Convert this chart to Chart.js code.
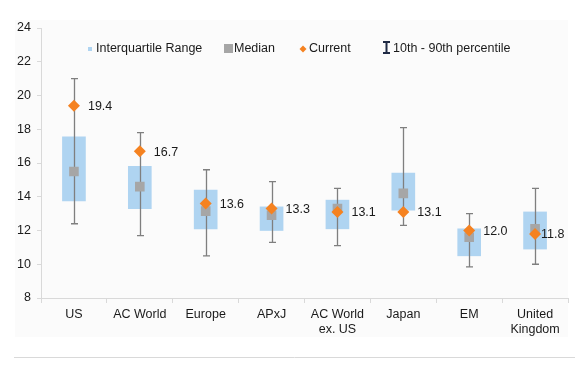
<!DOCTYPE html>
<html>
<head>
<meta charset="utf-8">
<script src="https://cdn.jsdelivr.net/npm/chart.js@4.4.1/dist/chart.umd.min.js"></script>
<style>
  body { margin: 0; background: #fff; }
  #wrap { width: 585px; height: 367px; position: relative; }
</style>
</head>
<body>
<div id="wrap"><canvas id="myChart" width="585" height="367"></canvas></div>
<script>
var regions = ["US", "AC World", "Europe", "APxJ", ["AC World", "ex. US"], "Japan", "EM", ["United", "Kingdom"]];
var q1Values = [13.75, 13.3, 12.1, 12.0, 12.1, 13.2, 10.5, 10.9];
var q3Values = [17.55, 15.8, 14.4, 13.4, 13.8, 15.4, 12.1, 13.1];
var medianValues = [15.5, 14.6, 13.15, 12.9, 13.3, 14.2, 11.6, 12.1];
var currentValues = [19.4, 16.7, 13.6, 13.3, 13.1, 13.1, 12.0, 11.8];
var p10Values = [12.4, 11.7, 10.5, 11.3, 11.1, 12.3, 9.85, 10.0];
var p90Values = [21.0, 17.8, 15.6, 14.9, 14.5, 18.1, 13.0, 14.5];
var yTicks = [8, 10, 12, 14, 16, 18, 20, 22, 24];

var boxColor = "#afd4f1";
var medianColor = "#a6a6a6";
var currentColor = "#f58220";
var whiskerColor = "#7f7f7f";
var font = "Liberation Sans, Arial, sans-serif";
var fontSize = 12.5;

var boxData = q1Values.map(function (v, i) { return [v, q3Values[i]]; });

// whiskers, legend and value labels
var extras = {
  id: "extras",
  beforeDraw: function (chart) {
    var ctx = chart.ctx;
    ctx.save();
    ctx.fillStyle = "#fbfbfb";
    ctx.fillRect(15, 20, 553, 317);
    ctx.strokeStyle = "#d9d9d9";
    ctx.lineWidth = 1;
    ctx.beginPath();
    ctx.moveTo(14, 357.5);
    ctx.lineTo(575, 357.5);
    ctx.stroke();
    ctx.restore();
  },
  afterDatasetDraw: function (chart, args) {
    if (args.index !== 0) return;
    var ctx = chart.ctx, x = chart.scales.x, y = chart.scales.y;
    ctx.save();
    ctx.strokeStyle = whiskerColor;
    ctx.lineWidth = 1.3;
    for (var i = 0; i < regions.length; i++) {
      var cx = Math.round(x.getPixelForValue(i)) + 0.5;
      var top = y.getPixelForValue(p90Values[i]);
      var bot = y.getPixelForValue(p10Values[i]);
      ctx.beginPath();
      ctx.moveTo(cx, top); ctx.lineTo(cx, bot);
      ctx.moveTo(cx - 3.5, top); ctx.lineTo(cx + 3.5, top);
      ctx.moveTo(cx - 3.5, bot); ctx.lineTo(cx + 3.5, bot);
      ctx.stroke();
    }
    ctx.restore();
  },
  afterDraw: function (chart) {
    var ctx = chart.ctx, x = chart.scales.x, y = chart.scales.y;
    ctx.save();
    ctx.font = fontSize + "px " + font;
    ctx.fillStyle = "#1a1a1a";
    ctx.textBaseline = "middle";
    ctx.textAlign = "left";
    for (var i = 0; i < regions.length; i++) {
      var off = i === regions.length - 1 ? 6 : 14;
      ctx.fillText(currentValues[i].toFixed(1), x.getPixelForValue(i) + off, y.getPixelForValue(currentValues[i]) + 1);
    }

    // legend
    var ly = 49;
    ctx.fillStyle = boxColor;
    ctx.fillRect(88, ly - 2, 4, 4);
    ctx.fillStyle = "#1a1a1a";
    ctx.fillText("Interquartile Range", 96, ly);

    ctx.fillStyle = medianColor;
    ctx.fillRect(224, ly - 5, 9, 9);
    ctx.fillStyle = "#1a1a1a";
    ctx.fillText("Median", 234, ly);

    ctx.fillStyle = currentColor;
    ctx.beginPath();
    ctx.moveTo(303, ly - 3.5); ctx.lineTo(306.5, ly); ctx.lineTo(303, ly + 3.5); ctx.lineTo(299.5, ly);
    ctx.closePath(); ctx.fill();
    ctx.fillStyle = "#1a1a1a";
    ctx.fillText("Current", 309, ly);

    ctx.strokeStyle = "#1f2a44";
    ctx.lineWidth = 2;
    ctx.beginPath();
    ctx.moveTo(386.5, ly - 7); ctx.lineTo(386.5, ly + 4);
    ctx.moveTo(383, ly - 7); ctx.lineTo(390, ly - 7);
    ctx.moveTo(383, ly + 4); ctx.lineTo(390, ly + 4);
    ctx.stroke();
    ctx.fillStyle = "#1a1a1a";
    ctx.fillText("10th - 90th percentile", 393, ly);
    ctx.restore();
  }
};

new Chart(document.getElementById("myChart"), {
  type: "bar",
  data: {
    labels: regions,
    datasets: [
      {
        label: "Interquartile Range",
        data: boxData,
        backgroundColor: boxColor,
        borderWidth: 0,
        barThickness: 23,
        order: 3
      },
      {
        type: "line",
        label: "Median",
        data: medianValues,
        showLine: false,
        pointStyle: "rect",
        pointRadius: 6.8,
        pointBackgroundColor: medianColor,
        pointBorderWidth: 0,
        order: 1
      },
      {
        type: "line",
        label: "Current",
        data: currentValues,
        showLine: false,
        pointStyle: "rectRot",
        pointRadius: 6,
        pointBackgroundColor: currentColor,
        pointBorderWidth: 0,
        order: 0
      }
    ]
  },
  options: {
    responsive: false,
    animation: false,
    layout: { padding: { top: 28, right: 17, bottom: 0, left: 0 } },
    plugins: { legend: { display: false }, tooltip: { enabled: false } },
    scales: {
      x: {
        afterFit: function (s) { s.height = 69; },
        border: { color: "#d9d9d9", width: 1 },
        grid: { drawOnChartArea: false, color: "#d9d9d9", tickLength: 5 },
        ticks: { color: "#1a1a1a", font: { family: font, size: fontSize }, padding: 4, maxRotation: 0, autoSkip: false }
      },
      y: {
        min: 8,
        max: 24,
        afterFit: function (s) { s.width = 41; },
        afterBuildTicks: function (s) { s.ticks = yTicks.map(function (v) { return { value: v }; }); },
        border: { color: "#d9d9d9", width: 1 },
        grid: { drawOnChartArea: false, color: "#d9d9d9", tickLength: 4 },
        ticks: { color: "#1a1a1a", font: { family: font, size: fontSize }, padding: 6 }
      }
    }
  },
  plugins: [extras]
});
</script>
</body>
</html>
